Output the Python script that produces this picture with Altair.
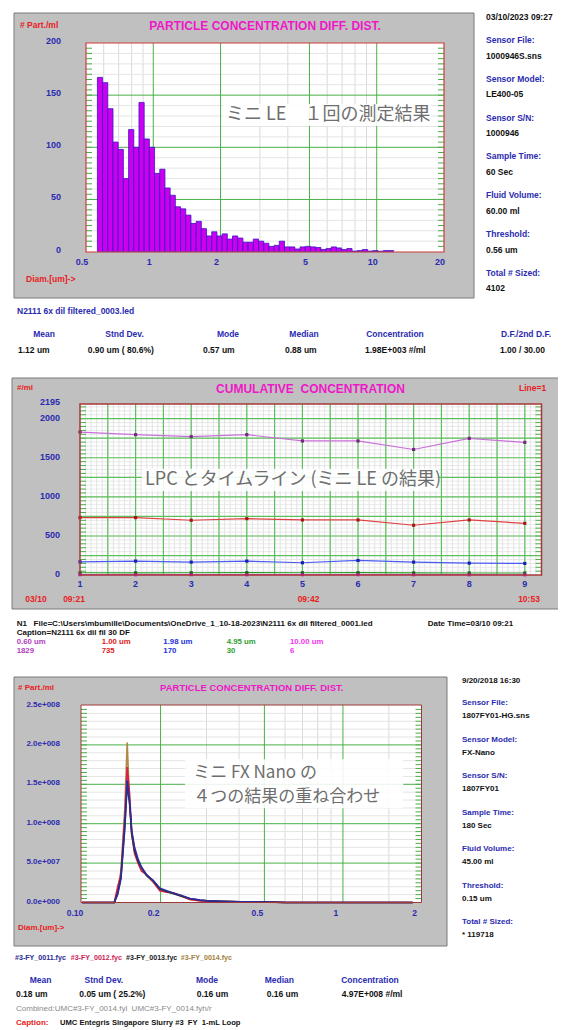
import altair as alt
import pandas as pd

# ---------------- data ----------------
# Panel 1: particle concentration differential distribution (log bins)
BIN_EDGES = [0.5623, 0.5933, 0.6259, 0.6604, 0.6967, 0.7350, 0.7755, 0.8181, 0.8631, 0.9106,
             0.9606, 1.0135, 1.0692, 1.1280, 1.1901, 1.2556, 1.3246, 1.3975, 1.4744, 1.5555,
             1.6411, 1.7313, 1.8266, 1.9271, 2.0331, 2.1449, 2.2629, 2.3874, 2.5187, 2.6573,
             2.8034, 2.9577, 3.1204, 3.2920, 3.4731, 3.6641, 3.8657, 4.0784, 4.3027, 4.5394,
             4.7891, 5.0525, 5.3304, 5.6234, 5.9327, 6.2590, 6.6033, 6.9665, 7.3497, 7.7540,
             8.1805, 8.6305, 9.1052, 9.6060, 10.135, 10.692, 11.280, 11.901]
BIN_COUNTS = [167, 162, 137, 105, 98, 70, 117, 100, 143, 108,
              100, 75, 79, 61, 54, 43, 41, 35, 27, 29,
              22, 15, 19, 15, 17, 12, 15, 13, 9, 9,
              12, 10, 8, 5, 6, 10, 4.5, 4.5, 2.5, 4.5,
              5, 4.5, 4, 2, 3, 4.5, 3.5, 2, 3, 0.5,
              1, 2, 0.5, 1, 0.3, 1, 1]
X1_TICKS = [0.5, 1, 2, 5, 10, 20]
X1_LABELS = ["0.5", "1", "2", "5", "10", "20"]
Y1_TICKS = [0, 50, 100, 150, 200]
Y1_LABELS = ["0", "50", "100", "150", "200"]
X1_MAJOR = [1, 2, 5, 10]
X1_MINOR = [0.6, 0.7, 0.8, 0.9, 3, 4, 6, 7, 8, 9]
Y1_MAJOR = [50, 100, 150]
Y1_MINOR = [v for v in range(10, 200, 10) if v % 50]
Y1_EDGE = list(range(5, 200, 5))

# Panel 2: cumulative concentration timeline
RUN = [1, 2, 3, 4, 5, 6, 7, 8, 9]
CUM_060 = [1829, 1795, 1770, 1795, 1715, 1715, 1606, 1748, 1697]
CUM_100 = [735, 735, 701, 722, 705, 705, 637, 705, 662]
CUM_198 = [170, 179, 166, 179, 158, 187, 166, 153, 149]
CUM_495 = [30, 29, 30, 31, 30, 31, 28, 27, 27]
CUM_1000 = [6, 5, 6, 5, 6, 6, 5, 5, 4]
X2_TICKS = [1, 2, 3, 4, 5, 6, 7, 8, 9]
Y2_TICKS = [0, 500, 1000, 1500, 2000, 2195]
X2_MAJOR = [x / 2 for x in range(3, 19)]
X2_MINOR = [x / 10 for x in range(11, 93)]
Y2_MAJOR = list(range(250, 2001, 250))
Y2_MINOR = list(range(50, 2195, 50))

# Panel 3: four overlaid distributions (FX Nano)
PSD_D = [0.100, 0.133, 0.137, 0.141, 0.146, 0.149, 0.152, 0.155, 0.159, 0.164,
         0.169, 0.177, 0.187, 0.199, 0.211, 0.224, 0.241, 0.259, 0.283, 0.310,
         0.338, 0.404, 0.512, 0.600, 1.850]
FY_0011 = [0, 0, 10e6, 30e6, 95e6, 155e6, 130e6, 92e6, 70e6, 55e6, 45e6, 35e6, 28e6, 18e6,
           15e6, 12e6, 9e6, 5e6, 3e6, 2e6, 1.5e6, 1e6, 0.6e6, 0, 0]
FY_0012 = [0, 0, 20e6, 35e6, 110e6, 172e6, 140e6, 90e6, 62e6, 50e6, 40e6, 35e6, 27e6, 15e6,
           13e6, 12e6, 8e6, 4e6, 2e6, 1.5e6, 1.2e6, 0.8e6, 0.5e6, 0, 0]
FY_0013 = [0, 0, 12e6, 32e6, 100e6, 148e6, 128e6, 88e6, 66e6, 52e6, 44e6, 34e6, 28e6, 17e6,
           14e6, 11e6, 8e6, 5e6, 3e6, 2e6, 1.5e6, 1e6, 0.6e6, 0, 0]
FY_0014 = [0, 0, 15e6, 40e6, 120e6, 203e6, 130e6, 85e6, 65e6, 52e6, 44e6, 34e6, 26e6, 15e6,
           14e6, 12e6, 8e6, 4e6, 2.5e6, 2e6, 1.5e6, 1e6, 0.8e6, 0.2e6, 0]
X3_TICKS = [0.1, 0.2, 0.5, 1, 2]
X3_LABELS = ["0.10", "0.2", "0.5", "1", "2"]
Y3_TICKS = [0, 5e7, 1e8, 1.5e8, 2e8, 2.5e8]
Y3_LABELS = ["0.0e+000", "5.0e+007", "1.0e+008", "1.5e+008", "2.0e+008", "2.5e+008"]
X3_MAJOR = [0.2, 0.5, 1]
X3_MINOR = [0.3, 0.4, 0.6, 0.7, 0.8, 0.9, 1.5]
Y3_MAJOR = [5e7, 1e8, 1.5e8, 2e8]
Y3_MINOR = [v * 1e7 for v in range(1, 25) if v % 5]
Y3_EDGE = [v * 5e6 for v in range(1, 50)]

# text content
NB = "\u00a0"
INFO_KEYS = ["Sensor File:", "Sensor Model:", "Sensor S/N:", "Sample Time:",
             "Fluid Volume:", "Threshold:", "Total # Sized:"]
INFO1_VALUES = ["1000946S.sns", "LE400-05", "1000946", "60 Sec", "60.00 ml", "0.56 um", "4102"]
INFO3_VALUES = ["1807FY01-HG.sns", "FX-Nano", "1807FY01", "180 Sec", "45.00 ml", "0.15 um", "* 119718"]
STAT_KEYS1 = ["Mean", "Stnd Dev.", "Mode", "Median", "Concentration", "D.F./2nd D.F."]
STAT_VALS1 = ["1.12 um", "0.90 um ( 80.6%)", "0.57 um", "0.88 um", "1.98E+003 #/ml", "1.00 / 30.00"]
STAT_KEYS3 = ["Mean", "Stnd Dev.", "Mode", "Median", "Concentration"]
STAT_VALS3 = ["0.18 um", "0.05 um ( 25.2%)", "0.16 um", "0.16 um", "4.97E+008 #/ml"]
SIZE_LABELS = ["0.60 um", "1.00 um", "1.98 um", "4.95 um", "10.00 um"]
SIZE_LAST = ["1829", "735", "170", "30", "6"]
FILES3 = ["#3-FY_0011.fyc", "#3-FY_0012.fyc", "#3-FY_0013.fyc", "#3-FY_0014.fyc"]

# ---------------- styling / layout ----------------
FONT = "Liberation Sans"
JP = "Noto Sans CJK JP"
GRAY = "#c0c0c0"
BLUE = "#2b2bb0"
RED = "#e82020"
MAG = "#ee18c8"
GREEN = "#48b048"
MINOR = "#dadada"

OX, OY = 8, 8


def px(x):
    return x - OX


def py(y):
    return y - OY


ONE = pd.DataFrame({"k": [0]})
layers = []


def rect(x1, y1, x2, y2, **mk):
    layers.append(alt.Chart(ONE).mark_rect(**mk).encode(
        x=alt.value(px(x1)), x2=alt.value(px(x2)), y=alt.value(py(y1)), y2=alt.value(py(y2))))


def text(s, x, y, size=8.5, color="#111111", align="left", weight="bold", font=FONT):
    layers.append(alt.Chart(ONE).mark_text(
        align=align, baseline="middle", fontSize=size, color=color, fontWeight=weight, font=font
    ).encode(x=alt.value(px(x)), y=alt.value(py(y)), text=alt.value(s)))


def vlines(vals, sx, y1, y2, color, w=1.0):
    df = pd.DataFrame({"g": vals})
    layers.append(alt.Chart(df).mark_rule(color=color, strokeWidth=w).encode(
        x=alt.X("g:Q", scale=sx, axis=None), y=alt.value(py(y1)), y2=alt.value(py(y2))))


def hlines(vals, sy, x1, x2, color, w=1.0):
    df = pd.DataFrame({"g": vals})
    layers.append(alt.Chart(df).mark_rule(color=color, strokeWidth=w).encode(
        y=alt.Y("g:Q", scale=sy, axis=None), x=alt.value(px(x1)), x2=alt.value(px(x2))))


def ylabels(vals, labels, sy, xr, size, dy=-1):
    df = pd.DataFrame({"v": vals, "t": labels})
    layers.append(alt.Chart(df).mark_text(
        align="right", baseline="middle", dy=dy, fontSize=size, fontWeight="bold", font=FONT, color=BLUE
    ).encode(y=alt.Y("v:Q", scale=sy, axis=None), x=alt.value(px(xr)), text="t:N"))


def xlabels(vals, labels, sx, y, size, dx=0):
    df = pd.DataFrame({"v": vals, "t": labels})
    layers.append(alt.Chart(df).mark_text(
        align="center", baseline="middle", dx=dx, fontSize=size, fontWeight="bold", font=FONT, color=BLUE
    ).encode(x=alt.X("v:Q", scale=sx, axis=None), y=alt.value(py(y)), text="t:N"))


def series(xs, ys, sx, sy, color, w=1.2, pcolor=None):
    df = pd.DataFrame({"x": xs, "y": ys})
    enc = dict(x=alt.X("x:Q", scale=sx, axis=None), y=alt.Y("y:Q", scale=sy, axis=None))
    layers.append(alt.Chart(df).mark_line(color=color, strokeWidth=w).encode(**enc))
    if pcolor:
        layers.append(alt.Chart(df).mark_square(color=pcolor, size=10, opacity=1).encode(**enc))


S1X = alt.Scale(type="log", domain=[0.5, 20], range=[px(86), px(444)], nice=False)
S1Y = alt.Scale(domain=[0, 200], range=[py(251.6), py(43)], nice=False, zero=False)
S2X = alt.Scale(domain=[1, 9.3], range=[px(80), px(541.5)], nice=False, zero=False)
S2Y = alt.Scale(domain=[0, 2195], range=[py(575.1), py(403.4)], nice=False, zero=False)
S3X = alt.Scale(type="log", domain=[0.1, 2], range=[px(82), px(421.5)], nice=False)
S3Y = alt.Scale(domain=[0, 2.5e8], range=[py(902.5), py(705.5)], nice=False, zero=False)

# ================= PANEL 1 =================
rect(14, 13, 474, 298, fill=GRAY, stroke="#7a7a7a", strokeWidth=1)
rect(86, 43, 444, 252, fill="white")
vlines(X1_MINOR, S1X, 43, 252, MINOR)
hlines(Y1_MINOR, S1Y, 86, 444, "#e4e4e4")
hlines(Y1_EDGE, S1Y, 86, 92, GREEN)
hlines(Y1_EDGE, S1Y, 438, 444, GREEN)
vlines(X1_MAJOR, S1X, 43, 252, GREEN)
hlines(Y1_MAJOR, S1Y, 86, 444, GREEN)
bars = pd.DataFrame({"lo": BIN_EDGES[:-1], "hi": BIN_EDGES[1:], "n": BIN_COUNTS})
layers.append(alt.Chart(bars).mark_rect(fill="#cc00ee", stroke="#3a14c8", strokeWidth=0.8).encode(
    x=alt.X("lo:Q", scale=S1X, axis=None), x2="hi:Q",
    y=alt.Y("n:Q", scale=S1Y, axis=None), y2=alt.datum(0)))
rect(86, 43, 444, 252, fill="white", fillOpacity=0, stroke="#d03a3a", strokeWidth=1.2)
text("PARTICLE CONCENTRATION DIFF. DIST.", 265, 26, size=12, color=MAG, align="center")
text("# Part./ml", 20, 25, size=8.5, color=RED)
ylabels(Y1_TICKS, Y1_LABELS, S1Y, 61, 9, dy=-2)
xlabels(X1_TICKS, X1_LABELS, S1X, 262, 9, dx=-4)
text("Diam.[um]->", 26, 279, size=8.5, color=RED)
text("03/10/2023 09:27", 486, 17)
for i, (k, v) in enumerate(zip(INFO_KEYS, INFO1_VALUES)):
    yy = 40 + i * 38.8
    text(k, 486, yy, color=BLUE)
    text(v, 486, yy + 15.5)
# overlay note
rect(223, 104, 431, 126, fill="white", opacity=0.88)
text("ミニ LE　１回の測定結果", 226, 115, size=18, color="#6e6e6e", weight="normal", font=JP)
# stats below panel 1
text("N2111 6x dil filtered_0003.led", 17, 311, color=BLUE)
for k, cx in zip(STAT_KEYS1, [44, 124.5, 228, 304, 395, 526]):
    text(k, cx, 334, color=BLUE, align="center")
for v, lx in zip(STAT_VALS1, [18, 87.7, 203, 285, 365, 500]):
    text(v, lx, 350)

# ================= PANEL 2 =================
rect(12, 378, 563, 609, fill=GRAY, stroke="#7a7a7a", strokeWidth=1)
rect(80, 404, 541.5, 575, fill="white")
vlines(X2_MINOR, S2X, 404, 575, "#dcdcdc", w=0.8)
hlines(Y2_MINOR, S2Y, 80, 541.5, "#e2e2e2", w=0.8)
hlines(Y2_MINOR, S2Y, 80, 86, GREEN)
hlines(Y2_MINOR, S2Y, 535.5, 541.5, GREEN)
vlines(X2_MAJOR, S2X, 404, 575, "#5cbf5c", w=1.2)
hlines(Y2_MAJOR, S2Y, 80, 541.5, "#5cbf5c", w=1.2)
series(RUN, CUM_495, S2X, S2Y, "#2a9a2a", pcolor="#1a6a1a")
series(RUN, CUM_1000, S2X, S2Y, "#e040e0", pcolor="#b010b0")
series(RUN, CUM_198, S2X, S2Y, "#4a5cf0", pcolor="#1c1cb0")
series(RUN, CUM_100, S2X, S2Y, "#e04040", pcolor="#a01818")
series(RUN, CUM_060, S2X, S2Y, "#c870d8", pcolor="#702a7a")
rect(80, 404, 541.5, 575, fill="white", fillOpacity=0, stroke="#a83838", strokeWidth=1.5)
text("CUMULATIVE" + NB + NB + "CONCENTRATION", 310.5, 389, size=12, color=MAG, align="center")
text("#/ml", 17, 388, size=8, color=RED)
text("Line=1", 519, 388, size=8.5, color=RED)
ylabels(Y2_TICKS, [str(v) for v in Y2_TICKS], S2Y, 60, 9, dy=-1)
xlabels(X2_TICKS, [str(v) for v in X2_TICKS], S2X, 584, 9)
for s, cx in zip(["03/10", "09:21", "09:42", "10:53"], [36, 74, 308.5, 529]):
    text(s, cx, 599, color=RED, align="center")
rect(141.7, 468.7, 439, 491, fill="white", opacity=0.88)
text("LPC とタイムライン (ミニ LE の結果)", 145, 480, size=18, color="#6e6e6e", weight="normal", font=JP)
# text below panel 2
text("N1" + NB * 3 + r"File=C:\Users\mbumille\Documents\OneDrive_1_10-18-2023\N2111 6x dil filtered_0001.led",
     16.7, 624, size=8)
text("Date Time=03/10 09:21", 427.7, 624, size=8)
text("Caption=N2111 6x dil fil 30 DF", 16.7, 633, size=8)
for s, n, lx, c in zip(SIZE_LABELS, SIZE_LAST, [16.7, 101.7, 163.3, 226.7, 290],
                       ["#b040c0", "#e02020", "#2030e0", "#30a030", "#f030f0"]):
    text(s, lx, 642, size=7.8, color=c)
    text(n, lx, 650.5, size=7.8, color=c)

# ================= PANEL 3 =================
rect(14, 677, 447, 946, fill=GRAY, stroke="#7a7a7a", strokeWidth=1)
rect(81, 705, 421.5, 902.5, fill="white")
vlines(X3_MINOR, S3X, 705, 902.5, MINOR)
hlines(Y3_MINOR, S3Y, 81, 421.5, "#e4e4e4")
hlines(Y3_EDGE, S3Y, 81, 87, GREEN)
hlines(Y3_EDGE, S3Y, 415.5, 421.5, GREEN)
vlines(X3_MAJOR, S3X, 705, 902.5, GREEN)
hlines(Y3_MAJOR, S3Y, 81, 421.5, GREEN)
series(PSD_D, FY_0014, S3X, S3Y, "#b08848", w=1.6)
series(PSD_D, FY_0012, S3X, S3Y, "#d8204a", w=1.6)
series(PSD_D, FY_0013, S3X, S3Y, "#333333", w=1.6)
series(PSD_D, FY_0011, S3X, S3Y, "#2c2c9c", w=1.6)
rect(81, 705, 421.5, 902.5, fill="white", fillOpacity=0, stroke="#a03838", strokeWidth=1)
text("PARTICLE CONCENTRATION DIFF. DIST.", 251.7, 688, size=9.5, color=MAG, align="center")
text("# Part./ml", 18, 688, size=8, color=RED)
ylabels(Y3_TICKS, Y3_LABELS, S3Y, 60, 8, dy=-1)
xlabels(X3_TICKS, X3_LABELS, S3X, 913, 8.5, dx=-7)
text("Diam.[um]->", 18, 928, size=8, color=RED)
text("9/20/2018 16:30", 462, 681, size=8)
for i, (k, v) in enumerate(zip(INFO_KEYS, INFO3_VALUES)):
    yy = 703.3 + i * 36.5
    text(k, 462, yy, size=8, color=BLUE)
    text(v, 462, yy + 12.8, size=8)
rect(185, 759.3, 403.3, 808.3, fill="white", opacity=0.88)
text("ミニ FX Nano の", 193.3, 772.8, size=17, color="#6e6e6e", weight="normal", font=JP)
text("４つの結果の重ね合わせ", 193.3, 796.5, size=17, color="#6e6e6e", weight="normal", font=JP)
# text below panel 3
for s, lx, c in zip(FILES3, [15, 70.7, 126, 180.7], ["#2a2a90", "#cc2255", "#222222", "#a08040"]):
    text(s, lx, 958.3, size=7.1, color=c)
for k, cx in zip(STAT_KEYS3, [40.5, 103.8, 207, 279.3, 370]):
    text(k, cx, 980, color=BLUE, align="center")
for v, lx in zip(STAT_VALS3, [16, 79.3, 196.7, 266.7, 341.7]):
    text(v, lx, 994.3)
text("Combined:UMC#3-FY_0014.fyl" + NB + NB + "UMC#3-FY_0014.fyh/r", 16, 1009.3, size=8,
     color="#8a8a8a", weight="normal")
text("Caption:", 16, 1023.3, size=8, color=RED)
text("UMC Entegris Singapore Slurry #3" + NB + NB + "FY" + NB + NB + "1-mL Loop", 60, 1023.3, size=7.6)

chart = alt.layer(*layers).resolve_scale(
    x="independent", y="independent"
).properties(
    width=550, height=1022, padding=0,
    autosize=alt.AutoSizeParams(type="none"), background="white"
).configure_view(stroke=None)

chart.save("out.html", embed_options={"renderer": "svg", "actions": False})
